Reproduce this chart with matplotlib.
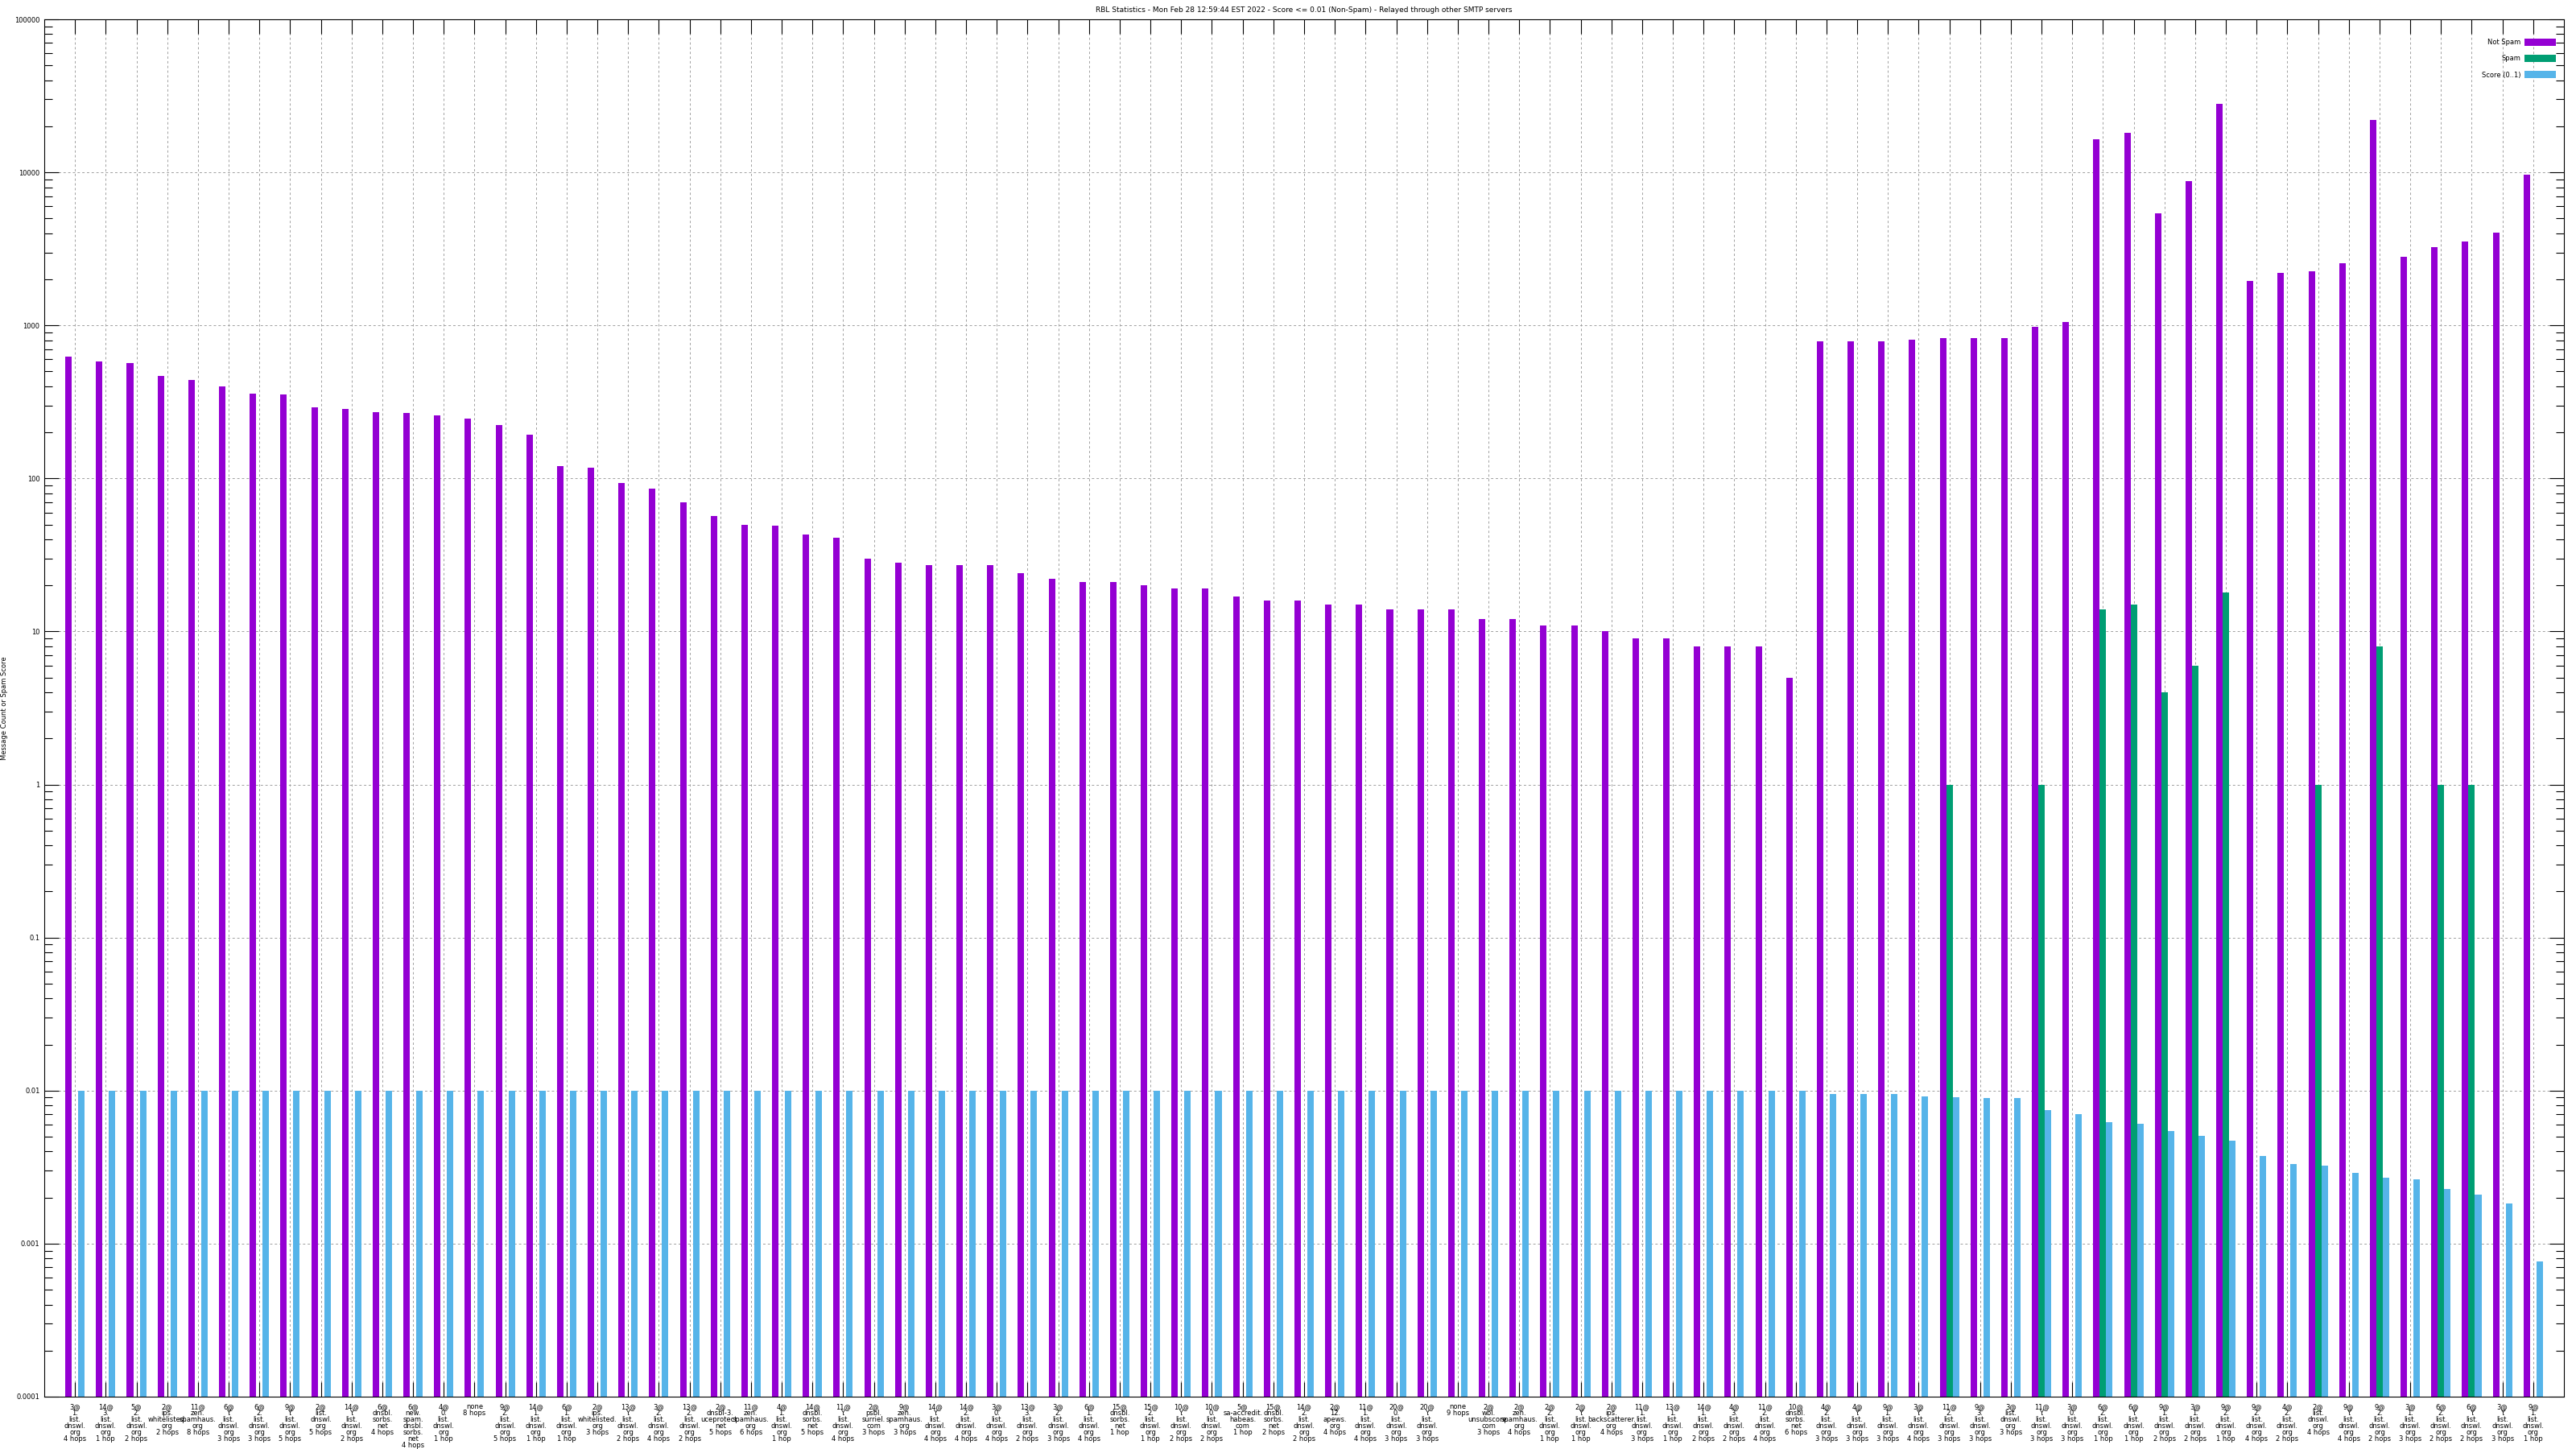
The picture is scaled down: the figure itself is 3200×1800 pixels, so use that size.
import numpy as np
import matplotlib
matplotlib.use("Agg")
import matplotlib.pyplot as plt
from matplotlib.patches import Patch

labels = [
    "3@\n1.\nlist.\ndnswl.\norg\n4 hops", "14@\n3.\nlist.\ndnswl.\norg\n1 hop",
    "5@\n2.\nlist.\ndnswl.\norg\n2 hops", "2@\nips.\nwhitelisted.\norg\n2 hops",
    "11@\nzen.\nspamhaus.\norg\n8 hops", "6@\nY.\nlist.\ndnswl.\norg\n3 hops",
    "6@\n2.\nlist.\ndnswl.\norg\n3 hops", "9@\nY.\nlist.\ndnswl.\norg\n5 hops",
    "2@\nlist.\ndnswl.\norg\n5 hops", "14@\nY.\nlist.\ndnswl.\norg\n2 hops",
    "6@\ndnsbl.\nsorbs.\nnet\n4 hops", "6@\nnew.\nspam.\ndnsbl.\nsorbs.\nnet\n4 hops",
    "4@\n0.\nlist.\ndnswl.\norg\n1 hop", "none\n8 hops",
    "9@\n2.\nlist.\ndnswl.\norg\n5 hops", "14@\n1.\nlist.\ndnswl.\norg\n1 hop",
    "6@\n1.\nlist.\ndnswl.\norg\n1 hop", "2@\nips.\nwhitelisted.\norg\n3 hops",
    "13@\nY.\nlist.\ndnswl.\norg\n2 hops", "3@\n2.\nlist.\ndnswl.\norg\n4 hops",
    "13@\n2.\nlist.\ndnswl.\norg\n2 hops", "2@\ndnsbl-3.\nuceprotect.\nnet\n5 hops",
    "11@\nzen.\nspamhaus.\norg\n6 hops", "4@\n1.\nlist.\ndnswl.\norg\n1 hop",
    "14@\ndnsbl.\nsorbs.\nnet\n5 hops", "11@\nY.\nlist.\ndnswl.\norg\n4 hops",
    "2@\npsbl.\nsurriel.\ncom\n3 hops", "9@\nzen.\nspamhaus.\norg\n3 hops",
    "14@\nY.\nlist.\ndnswl.\norg\n4 hops", "14@\n2.\nlist.\ndnswl.\norg\n4 hops",
    "3@\n0.\nlist.\ndnswl.\norg\n4 hops", "13@\n3.\nlist.\ndnswl.\norg\n2 hops",
    "3@\n2.\nlist.\ndnswl.\norg\n3 hops", "6@\n1.\nlist.\ndnswl.\norg\n4 hops",
    "15@\ndnsbl.\nsorbs.\nnet\n1 hop", "15@\n2.\nlist.\ndnswl.\norg\n1 hop",
    "10@\nY.\nlist.\ndnswl.\norg\n2 hops", "10@\n0.\nlist.\ndnswl.\norg\n2 hops",
    "5@\nsa-accredit.\nhabeas.\ncom\n1 hop", "15@\ndnsbl.\nsorbs.\nnet\n2 hops",
    "14@\n2.\nlist.\ndnswl.\norg\n2 hops", "2@\n12.\napews.\norg\n4 hops",
    "11@\n1.\nlist.\ndnswl.\norg\n4 hops", "20@\n0.\nlist.\ndnswl.\norg\n3 hops",
    "20@\nY.\nlist.\ndnswl.\norg\n3 hops", "none\n9 hops",
    "2@\nwbl.\nunsubscore.\ncom\n3 hops", "2@\nzen.\nspamhaus.\norg\n4 hops",
    "2@\n2.\nlist.\ndnswl.\norg\n1 hop", "2@\nY.\nlist.\ndnswl.\norg\n1 hop",
    "2@\nips.\nbackscatterer.\norg\n4 hops", "11@\n1.\nlist.\ndnswl.\norg\n3 hops",
    "13@\n1.\nlist.\ndnswl.\norg\n1 hop", "14@\n1.\nlist.\ndnswl.\norg\n2 hops",
    "4@\n3.\nlist.\ndnswl.\norg\n2 hops", "11@\n2.\nlist.\ndnswl.\norg\n4 hops",
    "10@\ndnsbl.\nsorbs.\nnet\n6 hops", "4@\n2.\nlist.\ndnswl.\norg\n3 hops",
    "4@\nY.\nlist.\ndnswl.\norg\n3 hops", "9@\n1.\nlist.\ndnswl.\norg\n3 hops",
    "3@\nY.\nlist.\ndnswl.\norg\n4 hops", "11@\n2.\nlist.\ndnswl.\norg\n3 hops",
    "9@\n3.\nlist.\ndnswl.\norg\n3 hops", "3@\nlist.\ndnswl.\norg\n3 hops",
    "11@\nY.\nlist.\ndnswl.\norg\n3 hops", "3@\n0.\nlist.\ndnswl.\norg\n3 hops",
    "6@\n2.\nlist.\ndnswl.\norg\n1 hop", "6@\nY.\nlist.\ndnswl.\norg\n1 hop",
    "9@\n1.\nlist.\ndnswl.\norg\n2 hops", "3@\n1.\nlist.\ndnswl.\norg\n2 hops",
    "9@\n2.\nlist.\ndnswl.\norg\n1 hop", "9@\n2.\nlist.\ndnswl.\norg\n4 hops",
    "4@\n2.\nlist.\ndnswl.\norg\n2 hops", "2@\nlist.\ndnswl.\norg\n4 hops",
    "9@\nY.\nlist.\ndnswl.\norg\n4 hops", "9@\n2.\nlist.\ndnswl.\norg\n2 hops",
    "3@\n1.\nlist.\ndnswl.\norg\n3 hops", "6@\n2.\nlist.\ndnswl.\norg\n2 hops",
    "6@\nY.\nlist.\ndnswl.\norg\n2 hops", "3@\nY.\nlist.\ndnswl.\norg\n3 hops",
    "9@\n1.\nlist.\ndnswl.\norg\n1 hop",
]

not_spam = [
    625, 580, 565, 470, 440, 400, 360, 355, 290, 285,
    270, 268, 258, 245, 222, 192, 120, 118, 93, 86,
    70, 57, 50, 49, 43, 41, 30, 28, 27, 27,
    27, 24, 22, 21, 21, 20, 19, 19, 17, 16,
    16, 15, 15, 14, 14, 14, 12, 12, 11, 11,
    10, 9, 9, 8, 8, 8, 5, 788, 788, 788,
    808, 828, 828, 828, 979, 1054, 16500, 18200, 5420, 8790,
    28000, 1955, 2213, 2254, 2552, 22070, 2818, 3247, 3539, 4054,
    9700,
]

spam = [0] * 61 + [1, 0, 0, 1, 0, 14, 15, 4, 6, 18, 0, 0, 1, 0, 8, 0, 1, 1, 0, 0]

score = [0.01] * 57 + [
    0.00945, 0.00945, 0.00945, 0.00911, 0.0090, 0.00889, 0.00889, 0.0075, 0.00698,
    0.00625, 0.0061, 0.00547, 0.00509, 0.00473, 0.00376, 0.00333, 0.00325, 0.00291,
    0.00271, 0.00264, 0.00228, 0.0021, 0.00184, 0.000766,
]

series_names = ["Not Spam", "Spam", "Score (0..1)"]
colors = ["#9400D3", "#009E73", "#56B4E9"]

plt.rcParams['font.family'] = ['DejaVu Sans']

fig = plt.figure(figsize=(32, 18), dpi=100)
ax = fig.add_axes([55/3200, 1 - 1735/1800, 3130/3200, 1711/1800])

x = np.arange(1, len(labels) + 1)
w = 0.21
ax.bar(x - w, not_spam, width=w, color=colors[0], zorder=2)
ax.bar(x, spam, width=w, color=colors[1], zorder=2)
ax.bar(x + w, score, width=w, color=colors[2], zorder=2)

ax.set_yscale('log')
ax.set_ylim(1e-4, 1e5)
ax.set_xlim(0, len(labels) + 1)

ax.set_xticks(x)
ax.set_xticklabels(labels, fontsize=6, linespacing=0.85)
yt = [1e-4, 1e-3, 1e-2, 1e-1, 1, 10, 100, 1000, 10000, 100000]
ax.set_yticks(yt)
ax.set_yticklabels(["0.0001", "0.001", "0.01", "0.1", "1", "10", "100", "1000", "10000", "100000"], fontsize=6)

ax.tick_params(axis='x', which='major', direction='in', length=13, width=0.8, top=True, pad=6)
ax.tick_params(axis='y', which='major', direction='in', length=13, width=0.8, right=True, pad=4)
ax.tick_params(axis='y', which='minor', direction='in', length=7, width=0.8, right=True)

ax.set_axisbelow(True)
ax.grid(True, which='major', axis='both', color='#a0a0a0', linestyle=(0, (3, 3)), linewidth=0.7)

for s in ax.spines.values():
    s.set_linewidth(0.8)

ax.set_ylabel("Message Count or Spam Score", fontsize=6)
ax.yaxis.set_label_coords(-0.0145, 0.5)

fig.text(1620/3200, 1 - 12.7/1800,
         "RBL Statistics - Mon Feb 28 12:59:44 EST 2022 - Score <= 0.01 (Non-Spam) - Relayed through other SMTP servers",
         ha='center', va='center', fontsize=6.5)

handles = [Patch(facecolor=c, edgecolor='none') for c in colors]
ax.legend(handles, series_names, loc='upper right', bbox_to_anchor=(0.9968, 0.986),
          markerfirst=False, frameon=False, fontsize=6, handlelength=4.7, handleheight=1.3,
          handletextpad=0.5, labelspacing=1.3, borderpad=0, borderaxespad=0)

fig.savefig("out.png", dpi=100)
